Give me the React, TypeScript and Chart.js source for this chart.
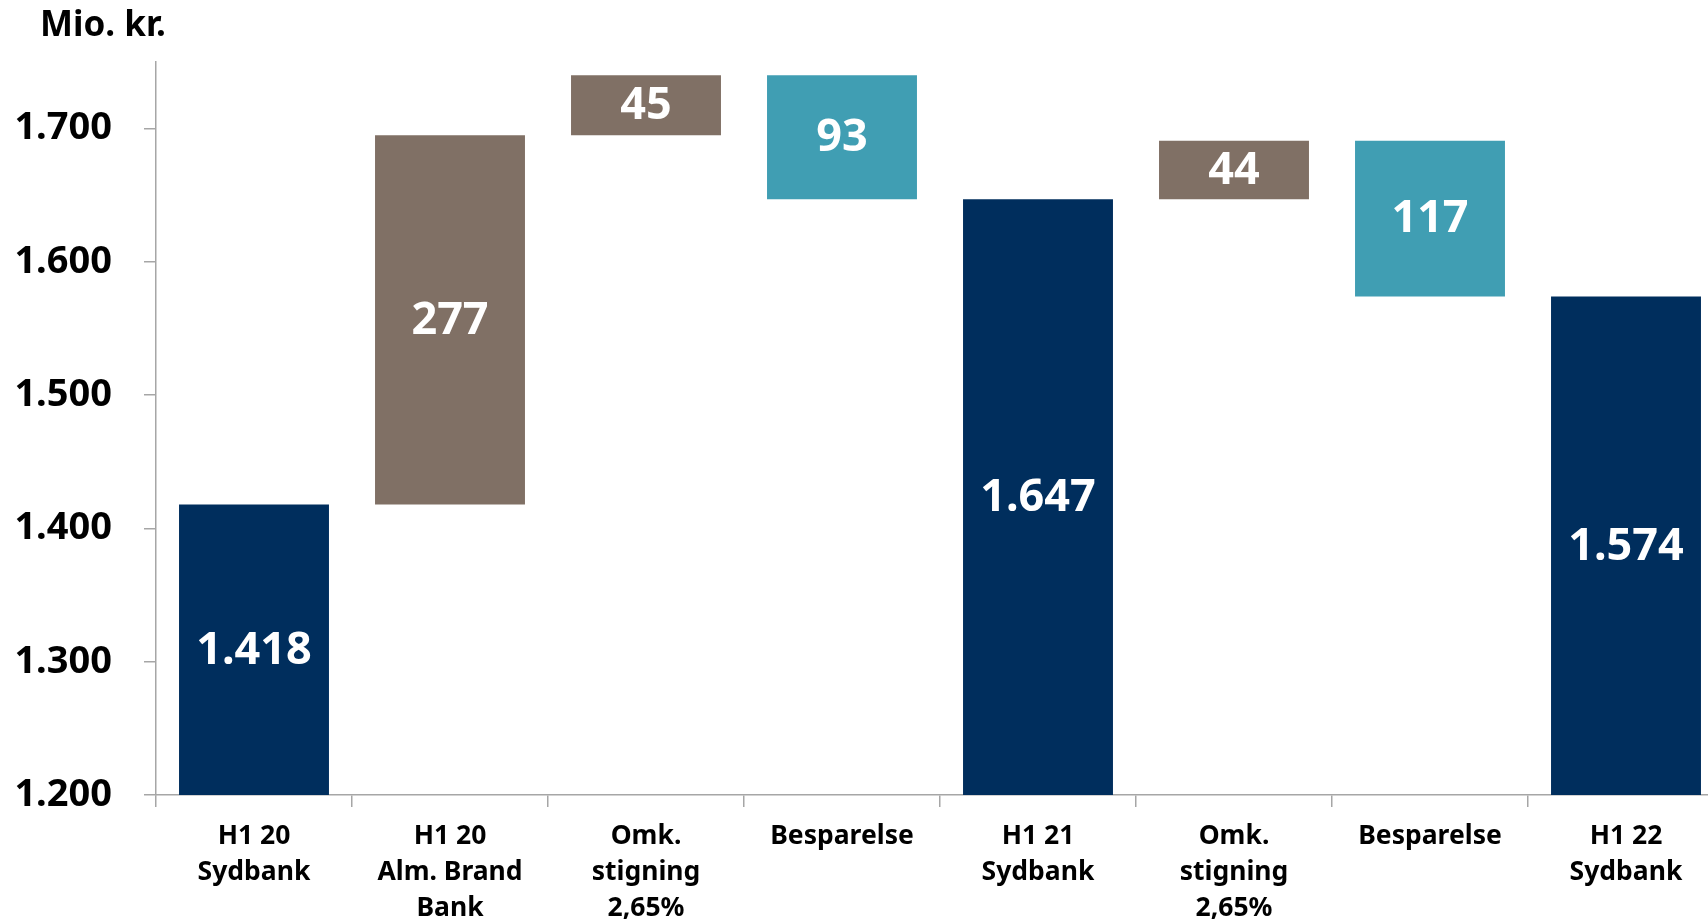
import React, { useEffect, useRef } from 'react';
import { Chart, registerables } from 'chart.js';

Chart.register(...registerables);

// ---- data ----
const categories: string[][] = [
  ['H1 20', 'Sydbank'],
  ['H1 20', 'Alm. Brand', 'Bank'],
  ['Omk.', 'stigning', '2,65%'],
  ['Besparelse'],
  ['H1 21', 'Sydbank'],
  ['Omk.', 'stigning', '2,65%'],
  ['Besparelse'],
  ['H1 22', 'Sydbank'],
];
const barKinds = ['total', 'increase', 'increase', 'decrease', 'total', 'increase', 'decrease', 'total'];
const barStarts = [1200, 1418, 1695, 1740, 1200, 1647, 1691, 1200];
const barEnds = [1418, 1695, 1740, 1647, 1647, 1691, 1574, 1574];
const yTickValues = [1200, 1300, 1400, 1500, 1600, 1700];
const axisMin = 1200;
const axisMax = 1750;
const unitLabel = 'Mio. kr.';

const kindColors: Record<string, string> = {
  total: '#002E5D',
  increase: '#807065',
  decrease: '#409EB3',
};

const FONT = '"Noto Sans", "Open Sans", sans-serif';

function fmt(n: number): string {
  const s = String(Math.round(n));
  return s.replace(/\B(?=(\d{3})+(?!\d))/g, '.');
}

const barLabelPlugin = {
  id: 'barLabels',
  afterDatasetsDraw(chart: any) {
    const ctx = chart.ctx;
    const meta = chart.getDatasetMeta(0);
    ctx.save();
    ctx.fillStyle = '#ffffff';
    ctx.font = `bold 45px ${FONT}`;
    ctx.textAlign = 'center';
    ctx.textBaseline = 'middle';
    meta.data.forEach((el: any, i: number) => {
      const txt = barKinds[i] === 'total' ? fmt(barEnds[i]) : fmt(Math.abs(barEnds[i] - barStarts[i]));
      const cy = (el.y + el.base) / 2;
      ctx.fillText(txt, el.x, cy + 1);
    });
    ctx.restore();
  },
};

const unitPlugin = {
  id: 'unitLabel',
  afterDraw(chart: any) {
    const ctx = chart.ctx;
    ctx.save();
    ctx.fillStyle = '#000000';
    ctx.font = `bold 35px ${FONT}`;
    ctx.textAlign = 'left';
    ctx.textBaseline = 'middle';
    ctx.fillText(unitLabel, 40, 26);
    ctx.restore();
  },
};

export default function App() {
  const ref = useRef<HTMLCanvasElement | null>(null);

  useEffect(() => {
    if (!ref.current) return;
    const chart = new Chart(ref.current, {
      type: 'bar',
      data: {
        labels: categories,
        datasets: [
          {
            data: barStarts.map((s, i) => [s, barEnds[i]]) as any,
            backgroundColor: barKinds.map((k) => kindColors[k]),
            borderWidth: 0,
            borderSkipped: false,
            barPercentage: 0.765,
            categoryPercentage: 1,
          },
        ],
      },
      options: {
        animation: false,
        responsive: false,
        layout: { padding: { top: 62, right: 2, left: 0, bottom: 0 } },
        plugins: {
          legend: { display: false },
          tooltip: { enabled: false },
          title: { display: false },
        },
        scales: {
          x: {
            grid: {
              display: true,
              offset: true,
              drawOnChartArea: false,
              drawTicks: true,
              tickLength: 12,
              color: '#A6A6A6',
              lineWidth: 1.5,
            },
            border: { display: true, color: '#A6A6A6', width: 1.5 },
            ticks: {
              color: '#000000',
              font: { family: FONT, weight: 'bold', size: 26.5, lineHeight: 1.36 },
              padding: 11,
              maxRotation: 0,
              autoSkip: false,
            },
            afterFit(scale: any) {
              scale.height = 126;
            },
          },
          y: {
            min: axisMin,
            max: axisMax,
            grid: {
              display: true,
              drawOnChartArea: false,
              drawTicks: true,
              tickLength: 12,
              color: '#A6A6A6',
              lineWidth: 1.5,
            },
            border: { display: true, color: '#A6A6A6', width: 1.5 },
            ticks: {
              color: '#000000',
              font: { family: FONT, weight: 'bold', size: 38 },
              padding: 32,
              callback: (v: any) => fmt(Number(v)),
            },
            afterBuildTicks(scale: any) {
              scale.ticks = yTickValues.map((v) => ({ value: v }));
            },
            afterFit(scale: any) {
              scale.width = 156;
            },
          },
        },
      },
      plugins: [barLabelPlugin, unitPlugin],
    });
    return () => chart.destroy();
  }, []);

  return (
    <div
      style={{
        position: 'fixed',
        left: 0,
        top: 0,
        width: 1708,
        height: 921,
        overflow: 'hidden',
        background: '#ffffff',
      }}
    >
      <canvas ref={ref} width={1726} height={921} style={{ display: 'block', width: 1726, height: 921 }} />
    </div>
  );
}
